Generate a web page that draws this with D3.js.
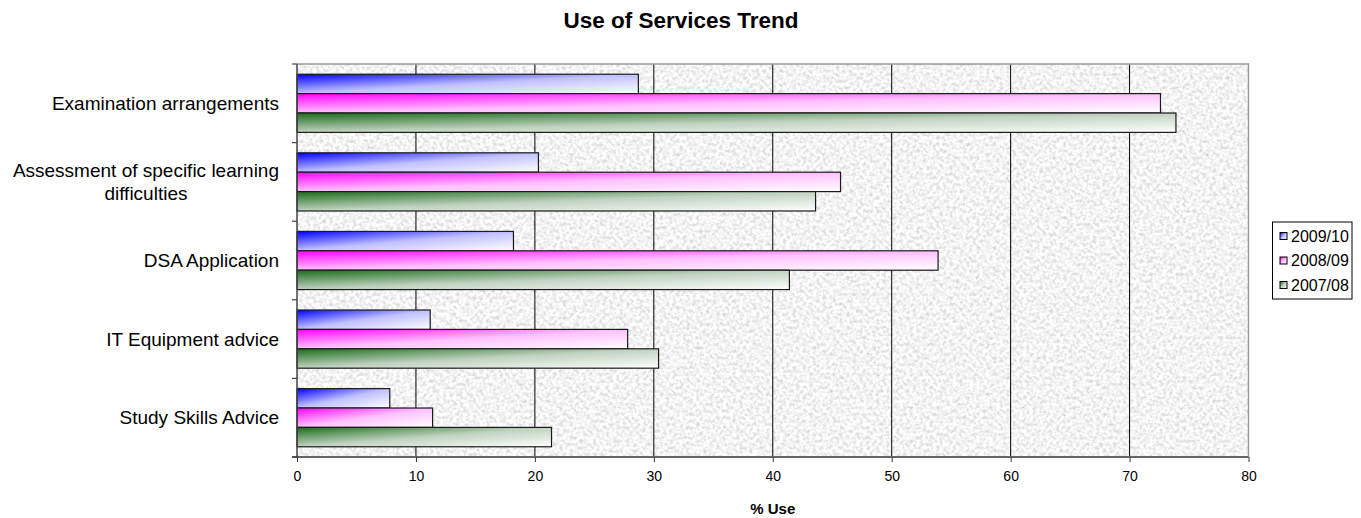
<!DOCTYPE html>
<html>
<head>
<meta charset="utf-8">
<script src="https://cdn.jsdelivr.net/npm/d3@7"></script>
<style>
  html, body { margin: 0; padding: 0; background: #ffffff; }
  svg { display: block; font-family: "Liberation Sans", Arial, sans-serif; }
</style>
</head>
<body>
<svg id="chart" width="1361" height="518"></svg>
<script>
// Service categories, top to bottom
const categories = [
  "Examination arrangements",
  "Assessment of specific learning difficulties",
  "DSA Application",
  "IT Equipment advice",
  "Study Skills Advice"
];
// Academic years (legend order)
const seriesNames = ["2009/10", "2008/09", "2007/08"];
// % use per year, in category order
const values2009_10 = [28.7, 20.3, 18.2, 11.2, 7.8];
const values2008_09 = [72.6, 45.7, 53.9, 27.8, 11.4];
const values2007_08 = [73.9, 43.6, 41.4, 30.4, 21.4];
const xTicks = [0, 10, 20, 30, 40, 50, 60, 70, 80];
const chartTitle = "Use of Services Trend";
const xTitle = "% Use";

const seriesValues = [values2009_10, values2008_09, values2007_08];
const seriesColors = ["#0000ff", "#ff00ff", "#1a6a1a"];
const seriesTints  = ["#c0c0ff", "#ffc0ff", "#c0d2c0"];

const svg = d3.select("#chart");
const margin = { left: 297, right: 1248.5, top: 64, bottom: 457 };

const x = d3.scaleLinear().domain([0, 80]).range([margin.left, margin.right]);
const y = d3.scaleBand().domain(categories).range([margin.top, margin.bottom])
  .paddingInner(0.26).paddingOuter(0.13);
const ySub = d3.scaleBand().domain(seriesNames).range([0, y.bandwidth()]);

const defs = svg.append("defs");

// granite-like texture for the plot area
const f = defs.append("filter").attr("id", "granite")
  .attr("x", 0).attr("y", 0).attr("width", "100%").attr("height", "100%");
f.append("feTurbulence").attr("type", "fractalNoise")
  .attr("baseFrequency", 0.3).attr("numOctaves", 4).attr("seed", 7).attr("result", "n");
f.append("feColorMatrix").attr("in", "n").attr("type", "matrix")
  .attr("values", "0.7 0 0 0 0.55  0.7 0 0 0 0.55  0.7 0 0 0 0.55  0 0 0 0 1");

// bar gradients
seriesNames.forEach((s, i) => {
  const g = defs.append("linearGradient").attr("id", "grad" + i)
    .attr("x1", 0).attr("y1", 0).attr("x2", 1).attr("y2", 1);
  g.append("stop").attr("offset", 0).attr("stop-color", seriesColors[i]);
  g.append("stop").attr("offset", 0.5).attr("stop-color", seriesTints[i]);
  g.append("stop").attr("offset", 1).attr("stop-color", "#ffffff");
});

// plot background
svg.append("rect")
  .attr("x", margin.left).attr("y", margin.top)
  .attr("width", margin.right - margin.left).attr("height", margin.bottom - margin.top)
  .attr("fill", "#e6e6e6")
  .attr("filter", "url(#granite)");

// vertical gridlines
svg.append("g").selectAll("line")
  .data(xTicks.filter(t => t > 0 && t < 80))
  .join("line")
  .attr("x1", d => x(d)).attr("x2", d => x(d))
  .attr("y1", margin.top).attr("y2", margin.bottom)
  .attr("stroke", "#000").attr("stroke-width", 1);

// plot border (top and right)
svg.append("path")
  .attr("d", `M${margin.left},${margin.top}H${margin.right}V${margin.bottom}`)
  .attr("fill", "none").attr("stroke", "#9a9a9a").attr("stroke-width", 1.5);

// bars
const groups = svg.append("g").selectAll("g")
  .data(categories)
  .join("g")
  .attr("transform", d => `translate(0,${y(d)})`);

groups.selectAll("rect")
  .data((c, ci) => seriesNames.map((s, si) => ({ s, si, v: seriesValues[si][ci] })))
  .join("rect")
  .attr("x", x(0))
  .attr("y", d => ySub(d.s))
  .attr("width", d => x(d.v) - x(0))
  .attr("height", ySub.bandwidth())
  .attr("fill", d => `url(#grad${d.si})`)
  .attr("stroke", "#1a1a1a").attr("stroke-width", 1.2);

// x axis
const xAxis = d3.axisBottom(x).tickValues(xTicks).tickSize(5).tickPadding(9).tickSizeOuter(0);
const gx = svg.append("g").attr("transform", `translate(0,${margin.bottom})`).call(xAxis);
gx.select(".domain").attr("stroke", "#666").attr("stroke-width", 2)
  .attr("d", `M${margin.left - 5},0H${margin.right}`);
gx.selectAll(".tick line").attr("stroke", "#333");
gx.selectAll(".tick text").attr("font-size", 14).attr("fill", "#000")
  .attr("font-family", "Liberation Sans, Arial, sans-serif");

// y axis line and category separators
const bounds = categories.map(c => y(c) - y.step() * y.paddingInner() / 2).concat([margin.bottom]);
bounds[0] = margin.top;
svg.append("line")
  .attr("x1", margin.left).attr("x2", margin.left)
  .attr("y1", margin.top).attr("y2", margin.bottom)
  .attr("stroke", "#444").attr("stroke-width", 1.5);
svg.append("g").selectAll("line").data(bounds).join("line")
  .attr("x1", margin.left - 5).attr("x2", margin.left)
  .attr("y1", d => d).attr("y2", d => d)
  .attr("stroke", "#444").attr("stroke-width", 1.2);

// category labels (long one wrapped on two lines)
const labelLines = {
  "Assessment of specific learning difficulties": ["Assessment of specific learning", "difficulties"]
};
categories.forEach(c => {
  const cy = y(c) + y.bandwidth() / 2;
  const lines = labelLines[c] || [c];
  const lh = 23;
  const t = svg.append("text")
    .attr("font-size", 19).attr("fill", "#000")
    .attr("text-anchor", "middle");
  const tmp = svg.append("text").attr("font-size", 19).text(lines[0]);
  const w = tmp.node().getComputedTextLength();
  tmp.remove();
  const rightEdge = 279;
  const cx = rightEdge - w / 2;
  lines.forEach((ln, i) => {
    t.append("tspan")
      .attr("x", cx)
      .attr("y", cy + (i - (lines.length - 1) / 2) * lh)
      .attr("dy", "0.35em")
      .text(ln);
  });
});

// title
svg.append("text")
  .attr("x", 681).attr("y", 28)
  .attr("text-anchor", "middle")
  .attr("font-size", 22.5).attr("font-weight", "bold")
  .text(chartTitle);

// x axis title
svg.append("text")
  .attr("x", (margin.left + margin.right) / 2).attr("y", 514)
  .attr("text-anchor", "middle")
  .attr("font-size", 15).attr("font-weight", "bold")
  .text(xTitle);

// legend
const lg = svg.append("g");
lg.append("rect")
  .attr("x", 1272.5).attr("y", 222).attr("width", 79.5).attr("height", 77)
  .attr("fill", "#fff").attr("stroke", "#000").attr("stroke-width", 1);
const ly = d3.scalePoint().domain(seriesNames).range([236, 285]);
seriesNames.forEach((s, i) => {
  lg.append("rect")
    .attr("x", 1280).attr("y", ly(s) - 3.5).attr("width", 7).attr("height", 7)
    .attr("fill", `url(#grad${i})`).attr("stroke", "#000").attr("stroke-width", 1);
  lg.append("text")
    .attr("x", 1291).attr("y", ly(s)).attr("dy", "0.35em")
    .attr("font-size", 16).text(s);
});
</script>
</body>
</html>
